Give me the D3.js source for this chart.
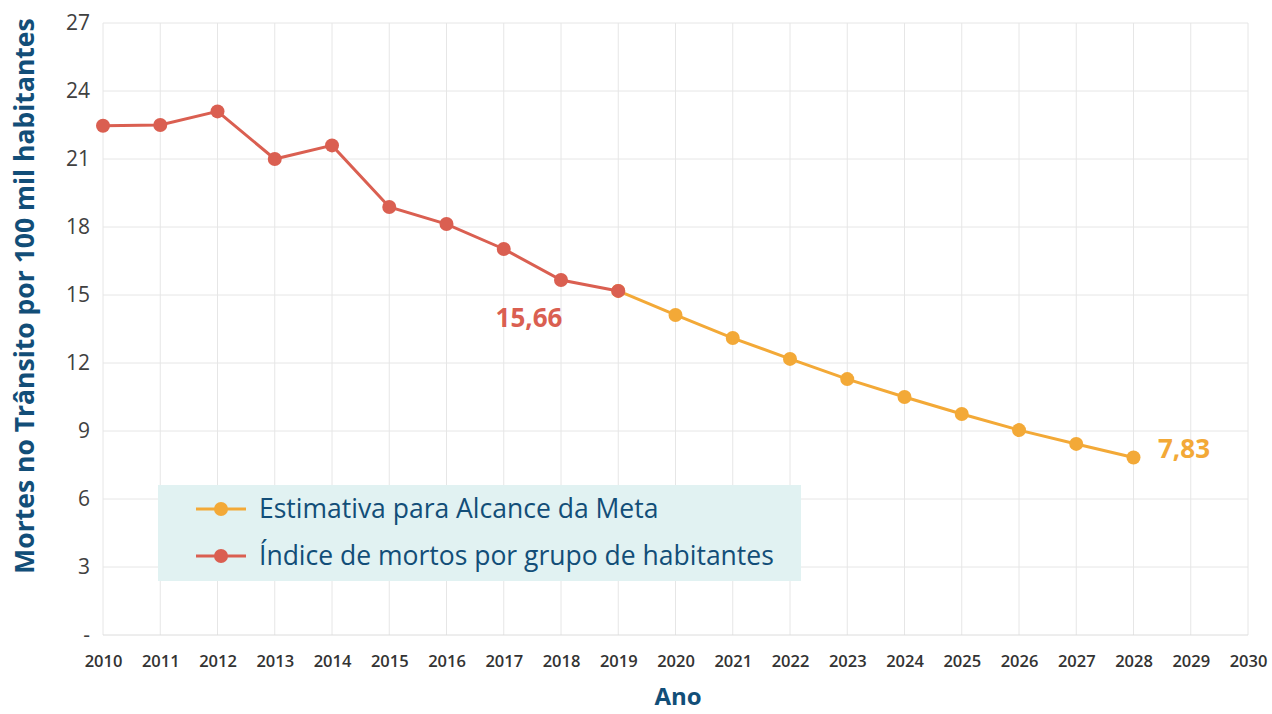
<!DOCTYPE html>
<html>
<head>
<meta charset="utf-8">
<script src="https://cdn.jsdelivr.net/npm/d3@7"></script>
<style>
  body { margin: 0; background: #fff; }
  svg { display: block; font-family: "Open Sans", sans-serif; }
</style>
</head>
<body>
<div id="chart"></div>
<script>
// data
const years = d3.range(2010, 2031);
const realYears = [2010, 2011, 2012, 2013, 2014, 2015, 2016, 2017, 2018, 2019];
const realValues = [22.47, 22.5, 23.1, 21.0, 21.6, 18.88, 18.13, 17.03, 15.66, 15.18];
const goalYears = [2019, 2020, 2021, 2022, 2023, 2024, 2025, 2026, 2027, 2028];
const goalValues = [15.18, 14.12, 13.1, 12.18, 11.29, 10.5, 9.75, 9.04, 8.43, 7.83];
const yTicks = [0, 3, 6, 9, 12, 15, 18, 21, 24, 27];

const RED = '#da5f51';
const ORANGE = '#f3a937';
const BLUE = '#124e78';
const FONT = '"Open Sans", sans-serif';

const W = 1272, H = 714;
const x = d3.scaleLinear().domain([2010, 2030]).range([103, 1248]);
const y = d3.scaleLinear().domain([0, 27]).range([635, 23]);

const svg = d3.select('#chart').append('svg')
    .attr('width', W).attr('height', H);

// grid
svg.append('g').selectAll('line.v')
    .data(years).enter().append('line')
    .attr('x1', d => x(d)).attr('x2', d => x(d))
    .attr('y1', y(27)).attr('y2', y(0))
    .attr('stroke', '#e6e6e6').attr('stroke-width', 1);
svg.append('g').selectAll('line.h')
    .data(yTicks).enter().append('line')
    .attr('x1', x(2010)).attr('x2', x(2030))
    .attr('y1', d => y(d)).attr('y2', d => y(d))
    .attr('stroke', d => d === 0 ? '#dcdcdc' : '#e6e6e6').attr('stroke-width', 1);

// axes
const yAxis = svg.append('g')
    .attr('transform', `translate(${x(2010)},0)`)
    .call(d3.axisLeft(y).tickValues(yTicks).tickSize(0).tickPadding(13)
        .tickFormat(d => d === 0 ? '-' : d));
yAxis.select('.domain').remove();
yAxis.attr('font-family', FONT);
yAxis.selectAll('text').attr('fill', '#404040').style('font-size', '21px');

const xAxis = svg.append('g')
    .attr('transform', `translate(0,${y(0)})`)
    .call(d3.axisBottom(x).tickValues(years).tickSize(0).tickPadding(20).tickFormat(d3.format('d')));
xAxis.select('.domain').remove();
xAxis.attr('font-family', FONT);
xAxis.selectAll('text').attr('fill', '#333').style('font-size', '16.5px').style('font-weight', 600);

// axis titles
svg.append('text')
    .attr('transform', `translate(34,${296}) rotate(-90)`)
    .attr('text-anchor', 'middle')
    .attr('fill', BLUE).style('font-size', '26.5px').style('font-weight', 700)
    .text('Mortes no Trânsito por 100 mil habitantes');
svg.append('text')
    .attr('x', 678).attr('y', 705)
    .attr('text-anchor', 'middle')
    .attr('fill', BLUE).style('font-size', '24px').style('font-weight', 700)
    .text('Ano');

// legend box
svg.append('rect')
    .attr('x', 158).attr('y', 485).attr('width', 643).attr('height', 96)
    .attr('fill', '#e1f2f2');

// lines
const line = d3.line().x(d => x(d[0])).y(d => y(d[1]));
function series(xs, vs, color) {
    const pts = xs.map((d, i) => [d, vs[i]]);
    const g = svg.append('g');
    g.append('path').attr('d', line(pts))
        .attr('fill', 'none').attr('stroke', color).attr('stroke-width', 3);
    g.selectAll('circle').data(pts).enter().append('circle')
        .attr('cx', d => x(d[0])).attr('cy', d => y(d[1])).attr('r', 7)
        .attr('fill', color);
}
series(goalYears, goalValues, ORANGE);
series(realYears, realValues, RED);

// data labels
svg.append('text')
    .attr('x', 529).attr('y', 327).attr('text-anchor', 'middle')
    .attr('fill', RED).style('font-size', '26px').style('font-weight', 700)
    .text('15,66');
svg.append('text')
    .attr('x', 1158).attr('y', 458)
    .attr('fill', ORANGE).style('font-size', '26px').style('font-weight', 700)
    .text('7,83');

// legend entries
const legend = [
    { label: 'Estimativa para Alcance da Meta', color: ORANGE },
    { label: 'Índice de mortos por grupo de habitantes', color: RED },
];
const lg = svg.append('g').selectAll('g').data(legend).enter().append('g')
    .attr('transform', (d, i) => `translate(0,${509 + i * 47})`);
lg.append('line').attr('x1', 196).attr('x2', 246)
    .attr('stroke', d => d.color).attr('stroke-width', 3);
lg.append('circle').attr('cx', 221).attr('r', 7).attr('fill', d => d.color);
lg.append('text').attr('x', 259).attr('y', 9)
    .attr('fill', BLUE).style('font-size', '26.5px')
    .text(d => d.label);
</script>
</body>
</html>
